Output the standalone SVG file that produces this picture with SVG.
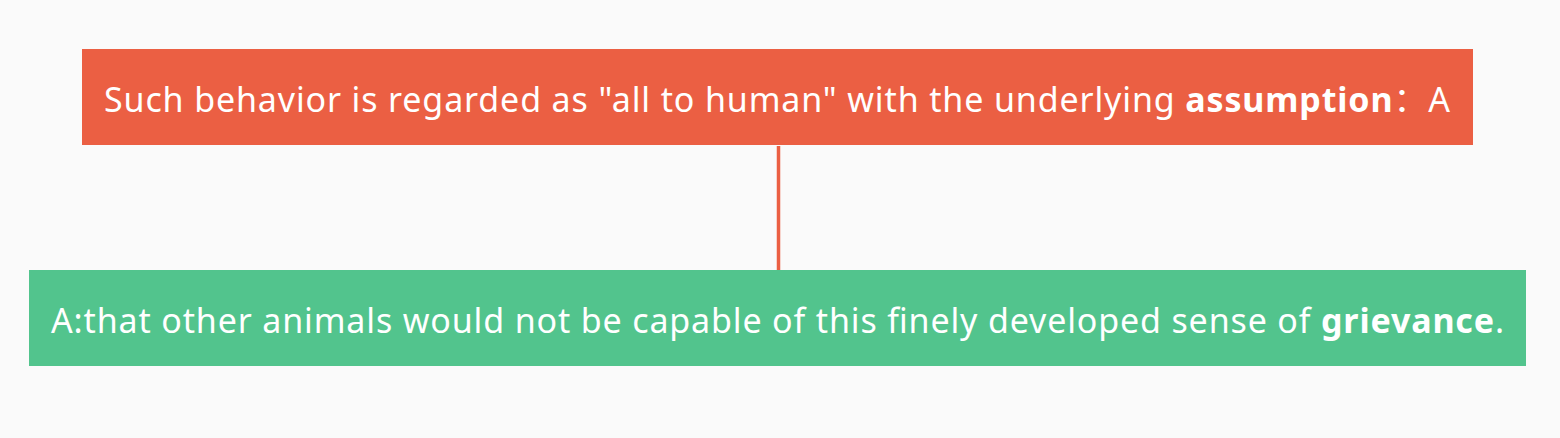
<svg xmlns="http://www.w3.org/2000/svg" width="1560" height="438" viewBox="0 0 1560 438">
<style>
.lbl{font-family:"Noto Sans","Open Sans","Noto Sans CJK SC",sans-serif;font-size:34px;fill:#ffffff;}
.b{font-weight:bold;}
.conn{stroke:#EB5F43;stroke-width:3.5;fill:none;}
</style>
<rect width="1560" height="438" fill="#FAFAFA"/>
<g id="connectors">
<line class="conn" x1="778.5" y1="146" x2="778.5" y2="270"/>
</g>
<g id="node-top">
<rect x="82" y="49" width="1391" height="96" fill="#EB5F43"/>
<text class="lbl" x="104" y="112" textLength="1346" lengthAdjust="spacing">Such behavior is regarded as "all to human" with the underlying <tspan class="b">assumption</tspan><tspan font-family="Noto Sans CJK SC">：</tspan>A</text>
</g>
<g id="node-bottom">
<rect x="29" y="270" width="1497" height="96" fill="#52C48D"/>
<text class="lbl" x="51" y="333" textLength="1453" lengthAdjust="spacing">A:that other animals would not be capable of this finely developed sense of <tspan class="b">grievance</tspan>.</text>
</g>
</svg>
